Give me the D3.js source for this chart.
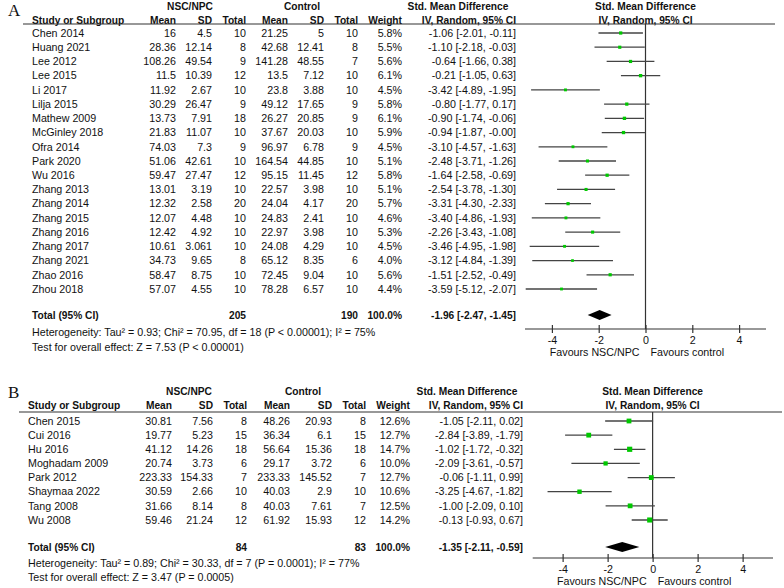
<!DOCTYPE html>
<html><head><meta charset="utf-8">
<script src="https://cdn.jsdelivr.net/npm/d3@7"></script>
<style>
body{margin:0;background:#fff}
text{font-family:Arial,"Liberation Sans",sans-serif;fill:#111}
</style>
</head><body>
<svg id="chart" width="784" height="588"></svg>
<script>
// ---------- Panel A data ----------
const studiesA = ["Chen 2014","Huang 2021","Lee 2012","Lee 2015","Li 2017","Lilja 2015","Mathew 2009","McGinley 2018","Ofra 2014","Park 2020","Wu 2016","Zhang 2013","Zhang 2014","Zhang 2015","Zhang 2016","Zhang 2017","Zhang 2021","Zhao 2016","Zhou 2018"];
const nscMeanA = [16,28.36,108.26,11.5,11.92,30.29,13.73,21.83,74.03,51.06,59.47,13.01,12.32,12.07,12.42,10.61,34.73,58.47,57.07];
const nscSDA = [4.5,12.14,49.54,10.39,2.67,26.47,7.91,11.07,7.3,42.61,27.47,3.19,2.58,4.48,4.92,3.061,9.65,8.75,4.55];
const nscTotalA = [10,8,9,12,10,9,18,10,9,10,12,10,20,10,10,10,8,10,10];
const ctrlMeanA = [21.25,42.68,141.28,13.5,23.8,49.12,26.27,37.67,96.97,164.54,95.15,22.57,24.04,24.83,22.97,24.08,65.12,72.45,78.28];
const ctrlSDA = [5,12.41,48.55,7.12,3.88,17.65,20.85,20.03,6.78,44.85,11.45,3.98,4.17,2.41,3.98,4.29,8.35,9.04,6.57];
const ctrlTotalA = [10,8,7,10,10,9,9,10,9,10,12,10,20,10,10,10,6,10,10];
const weightA = [5.8,5.5,5.6,6.1,4.5,5.8,6.1,5.9,4.5,5.1,5.8,5.1,5.7,4.6,5.3,4.5,4.0,5.6,4.4];
const smdA = [-1.06,-1.10,-0.64,-0.21,-3.42,-0.80,-0.90,-0.94,-3.10,-2.48,-1.64,-2.54,-3.31,-3.40,-2.26,-3.46,-3.12,-1.51,-3.59];
const loA = [-2.01,-2.18,-1.66,-1.05,-4.89,-1.77,-1.74,-1.87,-4.57,-3.71,-2.58,-3.78,-4.30,-4.86,-3.43,-4.95,-4.84,-2.52,-5.12];
const hiA = [-0.11,-0.03,0.38,0.63,-1.95,0.17,-0.06,-0.004,-1.63,-1.26,-0.69,-1.30,-2.33,-1.93,-1.08,-1.98,-1.39,-0.49,-2.07];
const totalA = {nsc:205, ctrl:190, smd:-1.96, lo:-2.47, hi:-1.45};
const hetA = "Heterogeneity: Tau\u00b2 = 0.93; Chi\u00b2 = 70.95, df = 18 (P < 0.00001); I\u00b2 = 75%";
const testA = "Test for overall effect: Z = 7.53 (P < 0.00001)";

// ---------- Panel B data ----------
const studiesB = ["Chen 2015","Cui 2016","Hu 2016","Moghadam 2009","Park 2012","Shaymaa 2022","Tang 2008","Wu 2008"];
const nscMeanB = [30.81,19.77,41.12,20.74,223.33,30.59,31.66,59.46];
const nscSDB = [7.56,5.23,14.26,3.73,154.33,2.66,8.14,21.24];
const nscTotalB = [8,15,18,6,7,10,8,12];
const ctrlMeanB = [48.26,36.34,56.64,29.17,233.33,40.03,40.03,61.92];
const ctrlSDB = [20.93,6.1,15.36,3.72,145.52,2.9,7.61,15.93];
const ctrlTotalB = [8,15,18,6,7,10,7,12];
const weightB = [12.6,12.7,14.7,10.0,12.7,10.6,12.5,14.2];
const smdB = [-1.05,-2.84,-1.02,-2.09,-0.06,-3.25,-1.00,-0.13];
const loB = [-2.11,-3.89,-1.72,-3.61,-1.11,-4.67,-2.09,-0.93];
const hiB = [0.02,-1.79,-0.32,-0.57,0.99,-1.82,0.10,0.67];
const totalB = {nsc:84, ctrl:83, smd:-1.35, lo:-2.11, hi:-0.59};
const hetB = "Heterogeneity: Tau\u00b2 = 0.89; Chi\u00b2 = 30.33, df = 7 (P = 0.0001); I\u00b2 = 77%";
const testB = "Test for overall effect: Z = 3.47 (P = 0.0005)";

const tickValues = [-4,-2,0,2,4];

const svg = d3.select("#chart");
const FS = 10.7, FSB = 10.2;
const fmt2 = v => v.toFixed(2);
const ciText = (e,l,h) => `${fmt2(e)} [${fmt2(l)}, ${fmt2(h)}]`;

function txt(g, x, y, s, anchor, bold, size){
  return g.append("text").attr("x", x).attr("y", y).attr("dy","0.35em")
    .attr("text-anchor", anchor || "start")
    .attr("font-size", size || (bold ? FSB : FS))
    .attr("font-weight", bold ? "bold" : "normal").text(s);
}

function drawPanel(p){
  const g = svg.append("g");
  // panel label
  g.append("text").attr("x", p.labelX).attr("y", p.labelY).attr("dy","0.35em")
    .style("font-family","'Liberation Serif','Times New Roman',serif").attr("font-size",17).text(p.label);
  const c = p.cols;
  // header row 1
  txt(g, c.g1, p.h1, "NSC/NPC", "middle", true);
  txt(g, c.g2, p.h1, "Control", "middle", true);
  txt(g, c.smdH, p.h1, "Std. Mean Difference", "middle", true);
  // header row 2
  txt(g, c.name, p.h2, "Study or Subgroup", "start", true);
  txt(g, c.m1, p.h2, "Mean", "end", true);
  txt(g, c.s1, p.h2, "SD", "end", true);
  txt(g, c.n1, p.h2, "Total", "end", true);
  txt(g, c.m2, p.h2, "Mean", "end", true);
  txt(g, c.s2, p.h2, "SD", "end", true);
  txt(g, c.n2, p.h2, "Total", "end", true);
  txt(g, c.w, p.h2, "Weight", "end", true);
  txt(g, c.ci, p.h2, "IV, Random, 95% CI", "end", true);

  const x = d3.scaleLinear().domain(p.domain).range(p.plotRange);
  txt(g, x(0), p.h1, "Std. Mean Difference", "middle", true);
  txt(g, x(0), p.h2, "IV, Random, 95% CI", "middle", true);

  g.append("line").attr("x1", p.ruleX[0]).attr("x2", p.ruleX[1])
    .attr("y1", p.ruleY).attr("y2", p.ruleY).attr("stroke","#333").attr("stroke-width",1.2);

  const y = d3.scalePoint().domain(p.studies).range(p.rowRange);

  p.studies.forEach((s,i) => {
    const yy = y(s);
    txt(g, c.name, yy, s, "start");
    txt(g, c.m1, yy, String(p.m1[i]), "end");
    txt(g, c.s1, yy, String(p.s1[i]), "end");
    txt(g, c.n1, yy, String(p.n1[i]), "end");
    txt(g, c.m2, yy, String(p.m2[i]), "end");
    txt(g, c.s2, yy, String(p.s2[i]), "end");
    txt(g, c.n2, yy, String(p.n2[i]), "end");
    txt(g, c.w, yy, p.w[i].toFixed(1) + "%", "end");
    txt(g, c.ci, yy, ciText(p.smd[i], p.lo[i], p.hi[i]), "end");
  });

  // zero line
  g.append("line").attr("x1", x(0)).attr("x2", x(0)).attr("y1", p.ruleY).attr("y2", p.axisY)
    .attr("stroke","#333").attr("stroke-width",1.2);

  // CI lines & markers
  const rows = p.studies.map((s,i)=>({s, e:p.smd[i], l:p.lo[i], h:p.hi[i], w:p.w[i]}));
  g.selectAll(".ci").data(rows).join("line")
    .attr("x1", d=>x(d.l)).attr("x2", d=>x(d.h))
    .attr("y1", d=>y(d.s)).attr("y2", d=>y(d.s))
    .attr("stroke","#444").attr("stroke-width",1.3);
  g.selectAll(".mk").data(rows).join("rect")
    .attr("x", d=>x(d.e) - p.mk(d.w)/2).attr("y", d=>y(d.s) - p.mk(d.w)/2)
    .attr("width", d=>p.mk(d.w)).attr("height", d=>p.mk(d.w))
    .attr("fill","#00c800");

  // total row
  const t = p.total, ty = p.totalY;
  txt(g, c.name, ty, "Total (95% CI)", "start", true);
  txt(g, c.n1, ty, String(t.nsc), "end", true);
  txt(g, c.n2, ty, String(t.ctrl), "end", true);
  txt(g, c.w, ty, "100.0%", "end", true);
  txt(g, c.ci, ty, ciText(t.smd, t.lo, t.hi), "end", true);
  g.append("path")
    .attr("d", `M${x(t.lo)},${ty} L${x(t.smd)},${ty-5} L${x(t.hi)},${ty} L${x(t.smd)},${ty+5} Z`)
    .attr("fill","#000");
  txt(g, c.name, p.hetY, p.het, "start");
  txt(g, c.name, p.testY, p.test, "start");

  // axis
  const ax = g.append("g").attr("transform", `translate(0,${p.axisY})`)
    .call(d3.axisBottom(x).tickValues(tickValues).tickSizeOuter(0).tickSize(4).tickPadding(3).tickFormat(d=>String(d)));
  ax.select(".domain").attr("stroke","#333").attr("stroke-width",1.2).attr("d", `M${p.plotRange[0]},0H${p.plotRange[1]}`);
  ax.selectAll(".tick line").attr("y1",-4).attr("y2",4).attr("stroke","#333").attr("stroke-width",1.2);
  ax.selectAll(".tick text").attr("font-size", FS).attr("fill","#111")
    .style("font-family","Arial,'Liberation Sans',sans-serif");
  txt(g, x(0) - 6, p.favY, "Favours NSC/NPC", "end");
  txt(g, x(0) + 5, p.favY, "Favours control", "start");
}

drawPanel({
  label:"A", labelX:8, labelY:10,
  h1:6, h2:20, ruleY:24, ruleX:[23,775],
  cols:{name:32, m1:176, s1:212, n1:246, m2:288, s2:324, n2:358, w:402, ci:516, g1:190, g2:302, smdH:458},
  studies:studiesA, m1:nscMeanA, s1:nscSDA, n1:nscTotalA, m2:ctrlMeanA, s2:ctrlSDA, n2:ctrlTotalA,
  w:weightA, smd:smdA, lo:loA, hi:hiA, total:totalA, het:hetA, test:testA,
  rowRange:[33,289], totalY:315, hetY:332, testY:347,
  domain:[-5.15,5.15], plotRange:[525,766], axisY:329, favY:352,
  mk: w => 1.35*Math.sqrt(w)
});

drawPanel({
  label:"B", labelX:8, labelY:392,
  h1:391, h2:405, ruleY:412, ruleX:[19,782],
  cols:{name:28, m1:172, s1:213, n1:247, m2:290, s2:332, n2:366, w:410, ci:523, g1:189, g2:303, smdH:467},
  studies:studiesB, m1:nscMeanB, s1:nscSDB, n1:nscTotalB, m2:ctrlMeanB, s2:ctrlSDB, n2:ctrlTotalB,
  w:weightB, smd:smdB, lo:loB, hi:hiB, total:totalB, het:hetB, test:testB,
  rowRange:[421,520], totalY:547, hetY:563, testY:577,
  domain:[-5.33,5.35], plotRange:[532.7,773], axisY:558, favY:581,
  mk: w => 1.35*Math.sqrt(w)
});
</script>
</body></html>
